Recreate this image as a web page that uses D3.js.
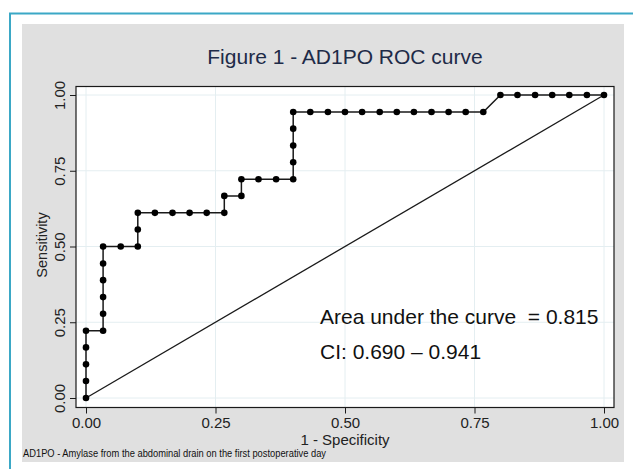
<!DOCTYPE html>
<html>
<head>
<meta charset="utf-8">
<script src="https://cdn.jsdelivr.net/npm/d3@7"></script>
<style>
  body { margin: 0; background: #fff; }
  svg { display: block; font-family: 'Liberation Sans', Arial, sans-serif; }
  text { white-space: pre; }
</style>
</head>
<body>
<svg width="633" height="469"></svg>
<script>
(function (d3) {
  'use strict';

  // 1 - specificity
  const fpr = [
    0, 0, 0, 0, 0,
    0.033, 0.033, 0.033, 0.033, 0.033, 0.033,
    0.067, 0.100, 0.100, 0.100,
    0.133, 0.167, 0.200, 0.233, 0.267, 0.267,
    0.300, 0.300, 0.333, 0.367, 0.400, 0.400, 0.400, 0.400, 0.400,
    0.433, 0.467, 0.500, 0.533, 0.567, 0.600, 0.633, 0.667, 0.700, 0.733, 0.767,
    0.800, 0.833, 0.867, 0.900, 0.933, 0.967, 1.000
  ];
  // sensitivity
  const tpr = [
    0, 0.056, 0.111, 0.167, 0.222,
    0.222, 0.278, 0.333, 0.389, 0.444, 0.500,
    0.500, 0.500, 0.556, 0.611,
    0.611, 0.611, 0.611, 0.611, 0.611, 0.667,
    0.667, 0.722, 0.722, 0.722, 0.722, 0.778, 0.833, 0.889, 0.944,
    0.944, 0.944, 0.944, 0.944, 0.944, 0.944, 0.944, 0.944, 0.944, 0.944, 0.944,
    1.000, 1.000, 1.000, 1.000, 1.000, 1.000, 1.000
  ];
  const xTicks = [0, 0.25, 0.5, 0.75, 1];
  const yTicks = [0, 0.25, 0.5, 0.75, 1];
  const refLine = [0, 1];

  const TITLE = 'Figure 1 - AD1PO ROC curve';
  const NOTES = ['Area under the curve  = 0.815', 'CI: 0.690 \u2013 0.941'];
  const FOOTNOTE = 'AD1PO - Amylase from the abdominal drain on the first postoperative day';

  const COLORS = {
    frame: '#3ba8c6',
    panel: '#e0e0e0',
    grid: '#e4eef1',
    ink: '#1a1a1a',
    title: '#1e2b48'
  };

  const svg = d3.select('svg');

  // outer frame (only top and left visible)
  svg.append('line')
    .attr('x1', 9).attr('x2', 633).attr('y1', 13.5).attr('y2', 13.5)
    .attr('stroke', COLORS.frame).attr('stroke-width', 2);
  svg.append('line')
    .attr('x1', 10).attr('x2', 10).attr('y1', 13).attr('y2', 469)
    .attr('stroke', COLORS.frame).attr('stroke-width', 2);

  // grey graph region
  svg.append('rect')
    .attr('x', 22).attr('y', 24).attr('width', 602).attr('height', 438)
    .attr('fill', COLORS.panel);

  const x = d3.scaleLinear().domain([0, 1]).range([86, 604]);
  const y = d3.scaleLinear().domain([0, 1]).range([398, 95]);

  const plot = { left: 76, right: 614, top: 86.5, bottom: 407.5 };

  svg.append('rect')
    .attr('x', plot.left).attr('y', plot.top)
    .attr('width', plot.right - plot.left).attr('height', plot.bottom - plot.top)
    .attr('fill', '#fff');

  // grid
  svg.append('g').selectAll('line')
    .data(xTicks).enter().append('line')
    .attr('x1', d => x(d)).attr('x2', d => x(d))
    .attr('y1', plot.top).attr('y2', plot.bottom)
    .attr('stroke', COLORS.grid).attr('stroke-width', 1);
  svg.append('g').selectAll('line')
    .data(yTicks).enter().append('line')
    .attr('x1', plot.left).attr('x2', plot.right)
    .attr('y1', d => y(d)).attr('y2', d => y(d))
    .attr('stroke', COLORS.grid).attr('stroke-width', 1);

  // axes
  const xAxis = d3.axisBottom(x).tickValues(xTicks).tickFormat(d3.format('.2f'))
    .tickSize(6).tickPadding(4);
  const gx = svg.append('g')
    .attr('transform', `translate(0,${plot.bottom})`)
    .call(xAxis);
  gx.select('.domain').remove();
  gx.selectAll('line').attr('stroke', COLORS.ink);
  gx.selectAll('text')
    .attr('font-size', 15).attr('fill', '#222')
    .attr('font-family', "'Liberation Sans', Arial, sans-serif");

  const yAxis = d3.axisLeft(y).tickValues(yTicks).tickFormat(d3.format('.2f'))
    .tickSize(6).tickPadding(4);
  const gy = svg.append('g')
    .attr('transform', `translate(${plot.left},0)`)
    .call(yAxis);
  gy.select('.domain').remove();
  gy.selectAll('line').attr('stroke', COLORS.ink);
  gy.selectAll('text')
    .attr('font-size', 15).attr('fill', '#222')
    .attr('font-family', "'Liberation Sans', Arial, sans-serif")
    .attr('x', 0).attr('dy', null)
    .attr('text-anchor', 'middle')
    .attr('dominant-baseline', 'central')
    .attr('transform', 'translate(-17,0) rotate(-90)');

  // plot frame
  svg.append('rect')
    .attr('x', plot.left).attr('y', plot.top)
    .attr('width', plot.right - plot.left).attr('height', plot.bottom - plot.top)
    .attr('fill', 'none').attr('stroke', COLORS.ink).attr('stroke-width', 1.2);

  // reference diagonal
  svg.append('line')
    .attr('x1', x(refLine[0])).attr('y1', y(refLine[0]))
    .attr('x2', x(refLine[1])).attr('y2', y(refLine[1]))
    .attr('stroke', COLORS.ink).attr('stroke-width', 1.3);

  // roc curve
  const pts = fpr.map((f, i) => [f, tpr[i]]);
  const line = d3.line().x(d => x(d[0])).y(d => y(d[1]));
  svg.append('path')
    .attr('d', line(pts))
    .attr('fill', 'none').attr('stroke', COLORS.ink).attr('stroke-width', 1.5);
  svg.append('g').selectAll('circle')
    .data(pts).enter().append('circle')
    .attr('cx', d => x(d[0])).attr('cy', d => y(d[1]))
    .attr('r', 3.3).attr('fill', '#000');

  // titles
  svg.append('text')
    .attr('x', 345).attr('y', 64)
    .attr('text-anchor', 'middle').attr('font-size', 21)
    .attr('fill', COLORS.title).text(TITLE);

  svg.append('text')
    .attr('x', 345).attr('y', 445)
    .attr('text-anchor', 'middle').attr('font-size', 15)
    .attr('fill', '#222').text('1 - Specificity');

  svg.append('text')
    .attr('transform', 'translate(47,245) rotate(-90)')
    .attr('text-anchor', 'middle').attr('font-size', 14.5)
    .attr('fill', '#222').text('Sensitivity');

  svg.append('g').selectAll('text')
    .data(NOTES).enter().append('text')
    .attr('x', 320).attr('y', (d, i) => 324 + i * 35)
    .attr('font-size', 21).attr('fill', '#111')
    .attr('xml:space', 'preserve')
    .text(d => d);

  svg.append('text')
    .attr('x', 23).attr('y', 457)
    .attr('font-size', 10).attr('fill', '#111')
    .attr('textLength', 303).attr('lengthAdjust', 'spacingAndGlyphs')
    .text(FOOTNOTE);

}(d3));
</script>
</body>
</html>
